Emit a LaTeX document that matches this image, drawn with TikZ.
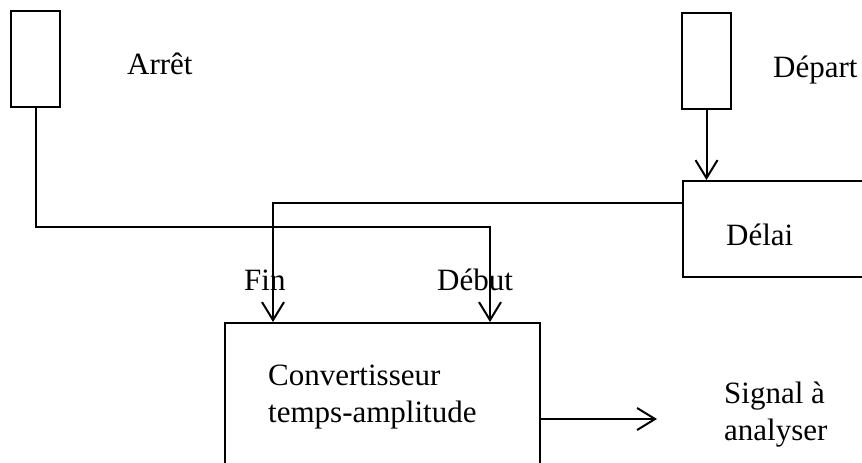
\documentclass[tikz,border=0pt]{standalone}
\usepackage{fontspec}
\setmainfont{Liberation Serif}
\usetikzlibrary{arrows.meta}
\begin{document}
\begin{tikzpicture}[x=1pt,y=-1pt,
  box/.style={draw,line width=2pt,rectangle,inner sep=0pt},
  wire/.style={line width=2pt},
  arr/.style={wire,-{Straight Barb[length=18pt,width=22pt,line width=2pt]}},
  lbl/.style={inner sep=0pt,anchor=base west,font=\fontsize{31}{37}\selectfont,align=left}]
\useasboundingbox (0,0) rectangle (862,463);
\clip (0,0) rectangle (862,463);
\node[box,minimum width=49pt,minimum height=96pt] (arret) at (35.5,59) {};
\node[box,minimum width=49pt,minimum height=96pt] (depart) at (706.5,61) {};
\node[box,minimum width=230pt,minimum height=96pt,anchor=north west] (delai) at (682,180) {};
\node[box,minimum width=315pt,minimum height=200pt,anchor=north west] (conv) at (224,322) {};
\node[lbl] (tarret) at (127,74) {Arrêt};
\node[lbl] (tdepart) at (773,77) {Départ};
\node[lbl] (tdelai) at (726,245) {Délai};
\node[lbl] (tfin) at (244,290) {Fin};
\node[lbl] (tdebut) at (437,290) {Début};
\node[lbl] (tconv) at (268,422) {Convertisseur\\temps-amplitude};
\node[lbl] (tsig) at (724,440) {Signal à\\analyser};
\coordinate (debutin) at (490,322);
\coordinate (finin) at (273,322);
\coordinate (sigout) at (657,419);
\draw[arr] (arret.south) |- (0,227 -| debutin) -- (debutin);
\draw[arr] (delai.north west |- 0,203) -| (finin);
\draw[arr] (depart.south) -- (depart.south |- delai.north);
\draw[arr] (conv.east |- sigout) -- (sigout);
\end{tikzpicture}
\end{document}
